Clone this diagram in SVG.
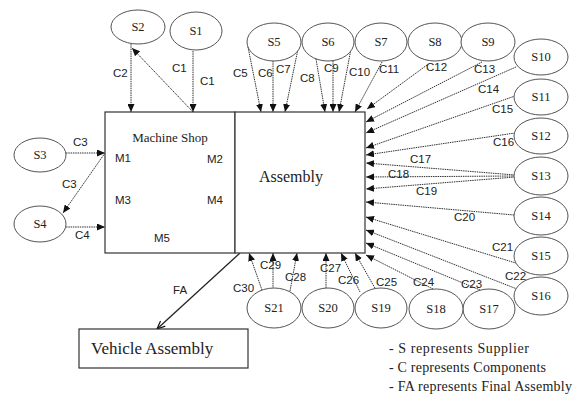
<svg xmlns="http://www.w3.org/2000/svg" width="582" height="395" viewBox="0 0 582 395">
<style>
.sup{fill:#fff;stroke:#555;stroke-width:1}
.box{fill:#fff;stroke:#333;stroke-width:1.2}
.st{font-family:"Liberation Serif",serif;font-size:12.5px;fill:#222;text-anchor:middle}
.lb{font-family:"Liberation Sans",Arial,sans-serif;font-size:11.5px;fill:#222}
.dl{stroke:#333;stroke-width:1;stroke-dasharray:1.5 0.8;fill:none;marker-end:url(#ah)}
.lg{font-family:"Liberation Serif",serif;font-size:14px;fill:#222}
</style>
<defs>
<marker id="ah" viewBox="0 0 8 7" refX="8" refY="3.5" markerWidth="8" markerHeight="7" markerUnits="userSpaceOnUse" orient="auto">
<path d="M0,0 L8,3.5 L0,7 z" fill="#111"/>
</marker>
<marker id="fa" viewBox="0 0 10 8" refX="9" refY="4" markerWidth="10" markerHeight="8" markerUnits="userSpaceOnUse" orient="auto">
<path d="M1,0.5 L9,4 L1,7.5" fill="none" stroke="#111" stroke-width="1.2"/>
</marker>
</defs>

<g id="connectors">
<line class="dl" x1="131" y1="44" x2="131" y2="112"/>
<line class="dl" x1="193" y1="112" x2="132" y2="48"/>
<line class="dl" x1="193" y1="51" x2="193" y2="112"/>
<line class="dl" x1="66" y1="153" x2="105" y2="153"/>
<line class="dl" x1="105" y1="153" x2="63" y2="213"/>
<line class="dl" x1="66" y1="227" x2="105" y2="227"/>
<line class="dl" x1="248" y1="47" x2="261" y2="112"/>
<line class="dl" x1="273" y1="61" x2="273" y2="112"/>
<line class="dl" x1="298" y1="49" x2="285" y2="112"/>
<line class="dl" x1="316" y1="59" x2="325" y2="112"/>
<line class="dl" x1="333" y1="61" x2="333" y2="112"/>
<line class="dl" x1="351" y1="49" x2="339" y2="112"/>
<line class="dl" x1="382" y1="62" x2="355" y2="112"/>
<line class="dl" x1="427" y1="65" x2="367" y2="109"/>
<line class="dl" x1="482" y1="62" x2="366" y2="122"/>
<line class="dl" x1="516" y1="67" x2="366" y2="133"/>
<line class="dl" x1="515" y1="96" x2="366" y2="148"/>
<line class="dl" x1="515" y1="133" x2="366" y2="155"/>
<line class="dl" x1="515" y1="175" x2="366" y2="163"/>
<line class="dl" x1="515" y1="176" x2="366" y2="177"/>
<line class="dl" x1="515" y1="177" x2="366" y2="189"/>
<line class="dl" x1="514" y1="215" x2="366" y2="202"/>
<line class="dl" x1="519" y1="264" x2="366" y2="217"/>
<line class="dl" x1="517" y1="289" x2="366" y2="230"/>
<line class="dl" x1="480" y1="290" x2="366" y2="243"/>
<line class="dl" x1="433" y1="289" x2="366" y2="255"/>
<line class="dl" x1="262" y1="290" x2="249" y2="253"/>
<line class="dl" x1="273" y1="289" x2="273" y2="253"/>
<line class="dl" x1="290" y1="291" x2="297" y2="253"/>
<line class="dl" x1="326" y1="288" x2="326" y2="253"/>
<line class="dl" x1="360" y1="292" x2="341" y2="253"/>
<line class="dl" x1="376" y1="290" x2="355" y2="253"/>
<line x1="240" y1="253" x2="157" y2="329" stroke="#222" stroke-width="1.3" marker-end="url(#fa)"/>
</g>

<g id="machine-shop">
<rect class="box" x="105" y="112" width="130" height="141"/>
<text x="170" y="142" style="font-family:'Liberation Serif',serif;font-size:13px;fill:#222;text-anchor:middle">Machine Shop</text>
<text class="lb" x="115" y="162">M1</text>
<text class="lb" x="207" y="163">M2</text>
<text class="lb" x="115" y="204">M3</text>
<text class="lb" x="207" y="204">M4</text>
<text class="lb" x="154" y="242">M5</text>
</g>
<g id="assembly">
<rect class="box" x="235" y="112" width="130" height="141"/>
<text x="291" y="182" style="font-family:'Liberation Serif',serif;font-size:16px;fill:#222;text-anchor:middle">Assembly</text>
</g>
<g id="vehicle-assembly">
<rect class="box" x="79" y="329" width="169" height="39"/>
<text x="91" y="354" style="font-family:'Liberation Serif',serif;font-size:17px;fill:#222">Vehicle Assembly</text>
</g>

<g id="S1"><ellipse class="sup" cx="196" cy="31" rx="26" ry="19"/><text class="st" x="196" y="35">S1</text></g>
<g id="S2"><ellipse class="sup" cx="138" cy="27" rx="27" ry="17"/><text class="st" x="138" y="31">S2</text></g>
<g id="S3"><ellipse class="sup" cx="40" cy="155" rx="26" ry="17"/><text class="st" x="40" y="159">S3</text></g>
<g id="S4"><ellipse class="sup" cx="40" cy="224" rx="26" ry="18"/><text class="st" x="40" y="228">S4</text></g>
<g id="S5"><ellipse class="sup" cx="274" cy="42" rx="27" ry="19"/><text class="st" x="274" y="46">S5</text></g>
<g id="S6"><ellipse class="sup" cx="328" cy="42" rx="26" ry="19"/><text class="st" x="328" y="46">S6</text></g>
<g id="S7"><ellipse class="sup" cx="381" cy="42" rx="26" ry="19"/><text class="st" x="381" y="46">S7</text></g>
<g id="S8"><ellipse class="sup" cx="435" cy="42" rx="27" ry="19"/><text class="st" x="435" y="46">S8</text></g>
<g id="S9"><ellipse class="sup" cx="488" cy="42" rx="27" ry="19"/><text class="st" x="488" y="46">S9</text></g>
<g id="S10"><ellipse class="sup" cx="541" cy="57" rx="27" ry="18"/><text class="st" x="541" y="61">S10</text></g>
<g id="S11"><ellipse class="sup" cx="541" cy="97" rx="27" ry="18"/><text class="st" x="541" y="101">S11</text></g>
<g id="S12"><ellipse class="sup" cx="541" cy="136" rx="27" ry="18"/><text class="st" x="541" y="140">S12</text></g>
<g id="S13"><ellipse class="sup" cx="541" cy="176" rx="27" ry="19"/><text class="st" x="541" y="180">S13</text></g>
<g id="S14"><ellipse class="sup" cx="541" cy="216" rx="27" ry="19"/><text class="st" x="541" y="220">S14</text></g>
<g id="S15"><ellipse class="sup" cx="541" cy="256" rx="27" ry="19"/><text class="st" x="541" y="260">S15</text></g>
<g id="S16"><ellipse class="sup" cx="541" cy="296" rx="27" ry="19"/><text class="st" x="541" y="300">S16</text></g>
<g id="S17"><ellipse class="sup" cx="489" cy="309" rx="26" ry="20"/><text class="st" x="489" y="313">S17</text></g>
<g id="S18"><ellipse class="sup" cx="436" cy="309" rx="27" ry="20"/><text class="st" x="436" y="313">S18</text></g>
<g id="S19"><ellipse class="sup" cx="381" cy="308" rx="26" ry="20"/><text class="st" x="381" y="312">S19</text></g>
<g id="S20"><ellipse class="sup" cx="328" cy="308" rx="26" ry="20"/><text class="st" x="328" y="312">S20</text></g>
<g id="S21"><ellipse class="sup" cx="274" cy="308" rx="27" ry="20"/><text class="st" x="274" y="312">S21</text></g>

<g id="labels">
<text class="lb" x="113" y="77">C2</text>
<text class="lb" x="172" y="72">C1</text>
<text class="lb" x="200" y="85">C1</text>
<text class="lb" x="73" y="146">C3</text>
<text class="lb" x="62" y="188">C3</text>
<text class="lb" x="75" y="239">C4</text>
<text class="lb" x="233" y="77">C5</text>
<text class="lb" x="258" y="77">C6</text>
<text class="lb" x="276" y="73">C7</text>
<text class="lb" x="300" y="82">C8</text>
<text class="lb" x="324" y="72">C9</text>
<text class="lb" x="349" y="76">C10</text>
<text class="lb" x="379" y="73">C11</text>
<text class="lb" x="426" y="71">C12</text>
<text class="lb" x="474" y="73">C13</text>
<text class="lb" x="478" y="93">C14</text>
<text class="lb" x="492" y="113">C15</text>
<text class="lb" x="493" y="146">C16</text>
<text class="lb" x="410" y="163">C17</text>
<text class="lb" x="388" y="178">C18</text>
<text class="lb" x="416" y="195">C19</text>
<text class="lb" x="454" y="221">C20</text>
<text class="lb" x="492" y="251">C21</text>
<text class="lb" x="505" y="280">C22</text>
<text class="lb" x="461" y="288">C23</text>
<text class="lb" x="413" y="286">C24</text>
<text class="lb" x="376" y="286">C25</text>
<text class="lb" x="338" y="284">C26</text>
<text class="lb" x="320" y="272">C27</text>
<text class="lb" x="285" y="281">C28</text>
<text class="lb" x="260" y="269">C29</text>
<text class="lb" x="233" y="292">C30</text>
<text class="lb" x="173" y="294">FA</text>
</g>

<g id="legend">
<text class="lg" x="389" y="353" textLength="140" lengthAdjust="spacing">- S represents Supplier</text>
<text class="lg" x="389" y="372" textLength="157" lengthAdjust="spacing">- C represents Components</text>
<text class="lg" x="389" y="391" textLength="183" lengthAdjust="spacing">- FA represents Final Assembly</text>
</g>
</svg>
